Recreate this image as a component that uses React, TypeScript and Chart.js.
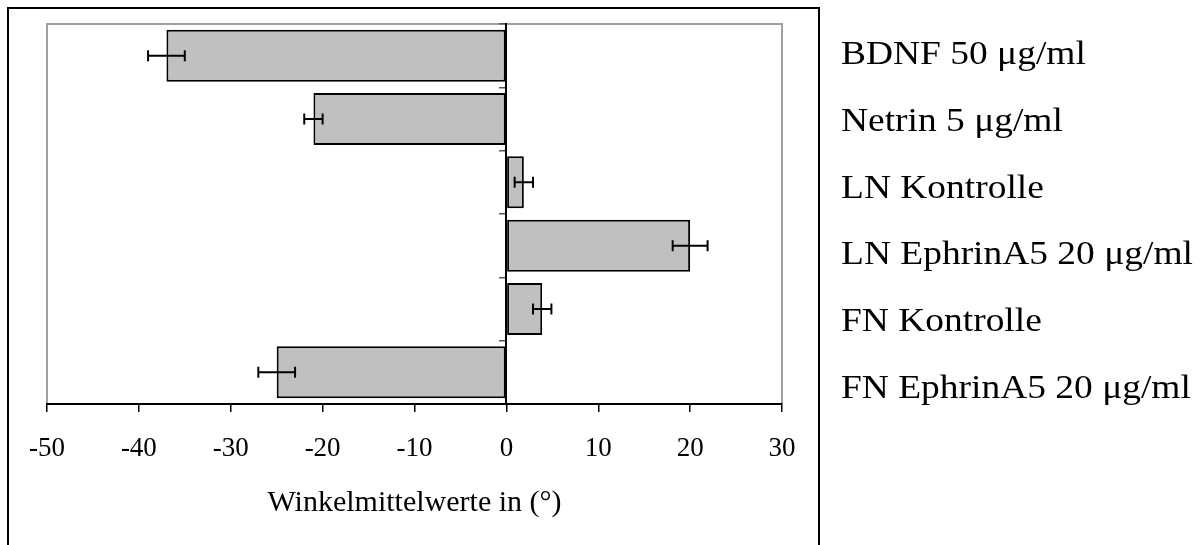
import { useEffect, useRef } from "react";
import { Chart, registerables } from "chart.js";

Chart.register(...registerables);

// Treatments, top to bottom
const categories = [
  "BDNF 50 μg/ml",
  "Netrin 5 μg/ml",
  "LN Kontrolle",
  "LN EphrinA5 20 μg/ml",
  "FN Kontrolle",
  "FN EphrinA5 20 μg/ml",
];
// Mean angle per treatment (degrees)
const meanAngles = [-37, -21, 1.9, 20, 3.9, -25];
// Error (± degrees)
const angleErrors = [2, 1, 1, 1.9, 1, 2];
// Horizontal axis range and step
const xMin = -50;
const xMax = 30;
const xStep = 10;
const axisTitle = "Winkelmittelwerte in (°)";

const SERIF = "'Liberation Serif', 'Times New Roman', serif";

const framePlugin = {
  id: "frame",
  beforeDraw(chart: any) {
    const { ctx, chartArea } = chart;
    ctx.save();
    // outer box
    ctx.strokeStyle = "#000";
    ctx.lineWidth = 2;
    ctx.strokeRect(8, 8, 811, 600);
    // plot area border
    ctx.strokeStyle = "#a0a0a0";
    ctx.lineWidth = 2;
    ctx.beginPath();
    ctx.moveTo(chartArea.left, chartArea.bottom);
    ctx.lineTo(chartArea.left, chartArea.top);
    ctx.lineTo(chartArea.right, chartArea.top);
    ctx.lineTo(chartArea.right, chartArea.bottom);
    ctx.stroke();
    ctx.restore();
  },
};

const errorBarPlugin = {
  id: "errorBars",
  afterDatasetsDraw(chart: any) {
    const { ctx } = chart;
    const xScale = chart.scales.x;
    const meta = chart.getDatasetMeta(0);
    ctx.save();
    ctx.strokeStyle = "#000";
    ctx.lineWidth = 2;
    meta.data.forEach((bar: any, i: number) => {
      const v = meanAngles[i];
      const e = angleErrors[i];
      const x1 = xScale.getPixelForValue(v - e);
      const x2 = xScale.getPixelForValue(v + e);
      const y = bar.y;
      const cap = 5.5;
      ctx.beginPath();
      ctx.moveTo(x1, y);
      ctx.lineTo(x2, y);
      ctx.moveTo(x1, y - cap);
      ctx.lineTo(x1, y + cap);
      ctx.moveTo(x2, y - cap);
      ctx.lineTo(x2, y + cap);
      ctx.stroke();
    });
    ctx.restore();
  },
};

const sideLabelPlugin = {
  id: "sideLabels",
  afterDraw(chart: any) {
    const { ctx } = chart;
    ctx.save();
    ctx.fillStyle = "#000";
    ctx.font = `33px ${SERIF}`;
    ctx.textAlign = "left";
    ctx.textBaseline = "alphabetic";
    categories.forEach((label, i) => {
      ctx.save();
      ctx.translate(841, 64 + i * 66.8);
      ctx.scale(1.135, 1);
      ctx.fillText(label, 0, 0);
      ctx.restore();
    });
    ctx.restore();
  },
};

export default function App() {
  const canvasRef = useRef<HTMLCanvasElement | null>(null);

  useEffect(() => {
    const canvas = canvasRef.current;
    if (!canvas) return;
    const chart = new Chart(canvas, {
      type: "bar",
      data: {
        labels: categories,
        datasets: [
          {
            data: meanAngles,
            backgroundColor: "#c0c0c0",
            borderColor: "#000",
            borderWidth: 2,
            borderSkipped: false,
            barPercentage: 0.82,
            categoryPercentage: 1,
          },
        ],
      },
      options: {
        indexAxis: "y",
        responsive: false,
        animation: false,
        devicePixelRatio: 1,
        layout: { padding: { left: 47, top: 24, right: 420, bottom: 0 } },
        plugins: {
          legend: { display: false },
          tooltip: { enabled: false },
        },
        scales: {
          x: {
            type: "linear",
            position: "bottom",
            min: xMin,
            max: xMax,
            ticks: {
              stepSize: xStep,
              color: "#000",
              font: { family: SERIF, size: 27 },
              padding: 21,
              maxRotation: 0,
            },
            grid: {
              drawOnChartArea: false,
              drawTicks: true,
              tickLength: 8,
              color: "#000",
              lineWidth: 1.5,
            },
            border: { display: true, color: "#000", width: 2 },
            title: {
              display: true,
              text: axisTitle,
              color: "#000",
              font: { family: SERIF, size: 30 },
              padding: { top: 0, bottom: 24 },
            },
            afterFit: (scale: any) => {
              scale.height = 141;
            },
          },
          y: {
            type: "category",
            position: { x: 0 } as any,
            offset: true,
            ticks: { display: false },
            grid: {
              offset: true,
              drawOnChartArea: false,
              drawTicks: true,
              tickLength: 6,
              color: "#555",
              lineWidth: 1.5,
            },
            border: { display: true, color: "#000", width: 2 },
          },
        },
      },
      plugins: [framePlugin, errorBarPlugin, sideLabelPlugin],
    });
    return () => chart.destroy();
  }, []);

  return (
    <div style={{ position: "absolute", left: 0, top: 0, width: 1202, height: 545, background: "#fff" }}>
      <canvas ref={canvasRef} width={1202} height={545} style={{ display: "block", width: 1202, height: 545 }} />
    </div>
  );
}
